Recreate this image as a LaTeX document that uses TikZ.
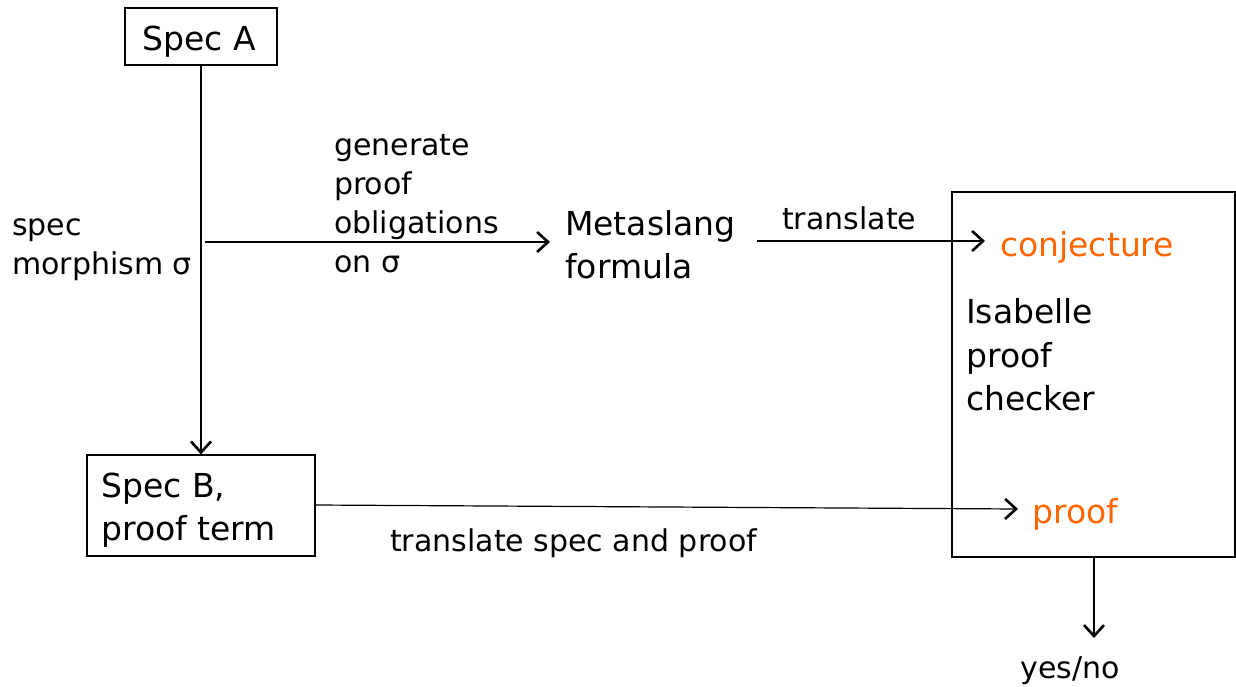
\documentclass[tikz,border=0pt]{standalone}
\usepackage{fontspec}
\setmainfont{DejaVu Sans}
\usetikzlibrary{arrows.meta}
\definecolor{orng}{RGB}{255,102,0}
\newcommand\lgfont{\fontsize{33}{43.5}\selectfont}
\newcommand\smfont{\fontsize{30}{39}\selectfont}
\begin{document}
\begin{tikzpicture}[x=1pt,y=-1pt,
  box/.style={draw, line width=1.2pt, inner sep=0pt},
  lbl/.style={inner sep=0pt, align=left, anchor=west},
  lg/.style={font=\lgfont},
  sm/.style={font=\smfont},
  arr/.style={line width=1.2pt, -{Straight Barb[length=11pt,width=20pt,line width=2.6pt]}}]
\useasboundingbox (0,0) rectangle (1236,687);
\node[box, minimum width=152, minimum height=57] (A) at (201,36.5) {};
\node[lbl, lg, anchor=center] (At) at (199,42) {Spec A};
\node[box, minimum width=228, minimum height=101] (B) at (201,505.5) {};
\node[lbl, lg] (Bt) at (101,510) {Spec B,\\proof term};
\node[box, minimum width=283, minimum height=365] (I) at (1093.5,374.5) {};
\node[lbl, sm] (spec) at (12,250) {spec\\morphism σ};
\node[lbl, sm] (gen) at (334,204) {generate\\proof\\obligations\\on σ};
\node[lbl, lg] (meta) at (565,244.5) {Metaslang\\formula};
\node[lbl, sm] (tr) at (782,218) {translate};
\node[lbl, lg, text=orng] (conj) at (1000,247) {conjecture};
\node[lbl, lg, text=orng] (pf) at (1032,514) {proof};
\node[lbl, lg] (isa) at (966,355) {Isabelle\\proof\\checker};
\node[lbl, sm] (tsp) at (390,543) {translate spec and proof};
\node[inner sep=0pt, sm] (yn) at (1070,671) {yes/no};
\coordinate (g0) at (205,242);
\coordinate (t0) at (757,241);
\coordinate (y1) at (1094,638);
\draw[arr] (A.south) -- (B.north);
\draw[arr] (g0) -- ([xshift=-15pt]meta.west |- g0);
\draw[arr] (t0) -- ([xshift=-15pt]conj.west |- t0);
\draw[arr] (B.east |- 0,505) -- ([xshift=-14pt,yshift=5pt]pf.west);
\draw[arr] (I.south -| y1) -- (y1);
\end{tikzpicture}
\end{document}
